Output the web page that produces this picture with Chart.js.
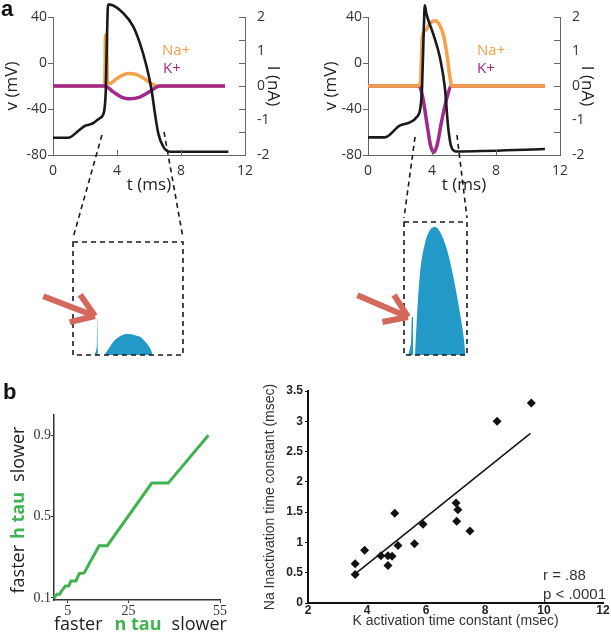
<!DOCTYPE html>
<html>
<head>
<meta charset="utf-8">
<script src="https://cdn.jsdelivr.net/npm/chart.js@4.4.0/dist/chart.umd.min.js"></script>
<style>
  body { margin: 0; background: #fff; width: 611px; height: 640px; position: relative; overflow: hidden; font-family: "Open Sans", sans-serif; }
  canvas { position: absolute; }
  .lbl { position: absolute; white-space: nowrap; line-height: 1; }
</style>
</head>
<body>
<canvas id="traceA" style="left:0;top:0;width:285px;height:365px" width="285" height="365"></canvas>
<canvas id="zoomA" style="left:0;top:0;width:285px;height:365px" width="285" height="365"></canvas>
<canvas id="traceB" style="left:319px;top:0;width:280px;height:365px" width="280" height="365"></canvas>
<canvas id="zoomB" style="left:319px;top:0;width:280px;height:365px" width="280" height="365"></canvas>
<canvas id="tauChart" style="left:0;top:370px;width:260px;height:270px" width="260" height="270"></canvas>
<canvas id="scatterChart" style="left:260px;top:370px;width:351px;height:260px" width="351" height="260"></canvas>

<div class="lbl" style="left:1px;top:-4px;font:bold 22px 'Liberation Sans',Arial;color:#111">a</div>
<div class="lbl" style="left:3px;top:379px;font:bold 22px 'Liberation Sans',Arial;color:#111">b</div>

<div class="lbl" style="left:162px;top:42px;font-size:15px;color:#f5a04a">Na+</div>
<div class="lbl" style="left:163px;top:60px;font-size:15px;color:#a12a8c">K+</div>
<div class="lbl" style="left:477px;top:42px;font-size:15px;color:#f5a04a">Na+</div>
<div class="lbl" style="left:477px;top:60px;font-size:15px;color:#a12a8c">K+</div>

<div class="lbl" style="left:54px;top:614px;font-size:18px;color:#222">faster<span style="display:inline-block;width:12px"></span><b style="color:#3fb34f">n tau</b><span style="display:inline-block;width:10px"></span>slower</div>
<div class="lbl" style="left:-73px;top:501px;width:180px;text-align:center;transform:rotate(-90deg);font-size:18px;color:#222">faster<span style="display:inline-block;width:6px"></span><b style="color:#3fb34f">h tau</b><span style="display:inline-block;width:10px"></span>slower</div>

<div class="lbl" style="left:543px;top:566px;font:15px 'Liberation Sans',Arial;color:#333">r = .88</div>
<div class="lbl" style="left:543px;top:585px;font:15px 'Liberation Sans',Arial;color:#333">p &lt; .0001</div>

<script>
// --- panel a, left: slow K activation ---
const tVoltA = [0, 0.94, 1.67, 1.98, 2.5, 2.92, 3.19, 3.3, 3.38, 3.44, 3.55, 4.38, 5.01, 5.43, 5.85, 6.16, 6.37, 6.58, 6.89, 7.31, 10.96];
const voltA = [-65, -65, -58, -54.8, -52.4, -48, -42.3, -23.4, 26, 50.8, 50.8, 43.5, 31.9, 17.3, -3, -23.4, -43.7, -61.2, -72.8, -77.2, -77.2];
const tNaA = [0, 3.03, 3.24, 3.28, 3.34, 3.4, 3.55, 3.97, 4.7, 5.22, 5.85, 6.26, 6.58, 10.75];
const naA = [0, 0, 0, 1.47, 1.47, 0.1, 0.07, 0.21, 0.36, 0.33, 0.17, 0.04, 0, 0];
const tKA = [0, 3.24, 3.76, 4.28, 4.8, 5.43, 5.95, 6.37, 6.68, 10.75];
const kA = [0, 0, -0.17, -0.32, -0.37, -0.32, -0.19, -0.06, 0, 0];

// --- panel a, right: fast K activation ---
const tVoltB = [0, 1.04, 1.98, 2.61, 3.03, 3.28, 3.38, 3.49, 3.55, 3.65, 4.07, 4.49, 4.8, 5.01, 5.22, 5.53, 11.06];
const voltB = [-64.7, -64.7, -54.5, -51.6, -47.2, -38.5, -21, 31.3, 50.2, 42.9, 25.5, 5.1, -21, -55.9, -73.4, -76.9, -74.8];
const tNaB = [0, 3.03, 3.28, 3.4, 3.61, 3.86, 4.18, 4.49, 4.74, 4.95, 5.11, 5.24, 11.06];
const naB = [0, 0, 0.1, 1.43, 1.62, 1.81, 1.89, 1.76, 1.43, 0.86, 0.29, 0, 0];
const tKB = [0, 3.19, 3.44, 3.7, 3.9, 4.11, 4.32, 4.59, 4.91, 5.22, 11.06];
const kB = [0, 0, -0.38, -1.14, -1.71, -1.92, -1.71, -1.05, -0.38, 0, 0];

const timeTicks = [0, 4, 8, 12];
const timeInnerTicks = [4, 8];
const currentInnerTicks = [2, 4 / 3, 2 / 3, 0, -2 / 3, -4 / 3, -2];

// zoom insets (arbitrary units 0-100)
const spikeXA = [19.4, 21, 21.8, 22.1, 22.6];
const spikeYA = [0, 4, 12, 34, 0];
const humpXA = [28.5, 31, 34, 36.6, 40, 44, 48.2, 53, 57, 60.9, 64, 67, 70, 71.5, 72];
const humpYA = [0, 3.5, 8, 11.8, 14.8, 17.3, 18.6, 18.4, 17.3, 16.2, 13.5, 10.3, 6, 2.9, 0];
const spikeXB = [6.9, 9.5, 11.5, 12.5, 14.3, 14.8];
const spikeYB = [0, 5, 12, 28.6, 28.6, 0];
const humpXB = [17.5, 20, 25.4, 33.3, 41.3, 49.2, 57.1, 67.7, 78.3, 86.2, 93.1, 96.8, 97];
const humpYB = [0, 23.8, 61.4, 84, 94, 96.5, 92.7, 80, 58.9, 38.8, 18.8, 2.5, 0];
// zoom window edges on the voltage trace (t, v)
const linksA = [[3.06, -62.6], [6.94, -60]];
const linksB = [[2.94, -64.3], [5.56, -62.6]];
// red arrows in inset units
const arrowA = [[-27, 52], [20, 34.5]];
const arrowB = [[-74, 45], [6.3, 28.6]];

// --- panel b ---
const nTau = [0.47, 1.44, 2.31, 3.17, 4.25, 5.33, 6.09, 7.71, 8.79, 10.4, 15.3, 18.0, 32.6, 38.0, 51.2];
const hTau = [0.1, 0.118, 0.118, 0.138, 0.159, 0.159, 0.184, 0.184, 0.220, 0.223, 0.357, 0.357, 0.665, 0.665, 0.9];
const nTauTicks = [5, 25, 55];
const hTauTicks = [0.1, 0.5, 0.9];

const kActivation = [3.60, 3.60, 3.92, 4.47, 4.71, 4.85, 4.71, 4.94, 5.05, 5.61, 5.90, 7.02, 7.08, 7.04, 7.49, 8.41, 9.57];
const naInactivation = [0.65, 0.47, 0.87, 0.78, 0.78, 0.77, 0.62, 1.48, 0.95, 0.98, 1.30, 1.65, 1.54, 1.35, 1.19, 3.00, 3.30];
const fitX = [3.6, 9.54];
const fitY = [0.48, 2.80];

const orange = '#f5a04a';
const purple = '#a12a8c';
const green = '#3fb34f';
const blue = '#2399c8';
const arrowRed = '#d4685c';
const axisGray = '#666';

const pts = (xs, ys) => xs.map((x, i) => ({ x: x, y: ys[i] }));

const innerTicks = {
    id: 'innerTicks',
    afterDraw(chart, args, opts) {
        const { ctx, chartArea, scales } = chart;
        ctx.save();
        ctx.strokeStyle = axisGray;
        ctx.lineWidth = 1;
        ctx.beginPath();
        (opts.x || []).forEach(v => {
            const px = Math.round(scales.x.getPixelForValue(v)) + 0.5;
            ctx.moveTo(px, chartArea.bottom);
            ctx.lineTo(px, chartArea.bottom - 5);
        });
        (opts.y1 || []).forEach(v => {
            const py = Math.round(scales.y1.getPixelForValue(v)) + 0.5;
            ctx.moveTo(chartArea.right, py);
            ctx.lineTo(chartArea.right - 6, py);
        });
        ctx.stroke();
        ctx.restore();
    }
};

function traceLine(data, color, width, axis) {
    return {
        data: data,
        borderColor: color,
        borderWidth: width,
        pointRadius: 0,
        cubicInterpolationMode: 'monotone',
        yAxisID: axis,
        clip: false
    };
}

function makeTrace(id, sizes, datasets) {
    const tickFont = { family: 'Open Sans', size: 14 };
    const titleFont = { family: 'Open Sans', size: 17 };
    return new Chart(document.getElementById(id), {
        type: 'line',
        data: { datasets: datasets },
        options: {
            responsive: false,
            animation: false,
            layout: { padding: { top: 17, bottom: 170, left: 0, right: 0 } },
            plugins: {
                legend: { display: false },
                tooltip: { enabled: false },
                innerTicks: { x: timeInnerTicks, y1: currentInnerTicks }
            },
            scales: {
                x: {
                    type: 'linear', min: 0, max: 12,
                    afterBuildTicks: s => { s.ticks = timeTicks.map(v => ({ value: v })); },
                    afterFit: s => { s.height = 40; },
                    grid: { display: false },
                    border: { color: axisGray, width: 1 },
                    ticks: { color: '#333', font: tickFont, padding: 0, maxRotation: 0 },
                    title: { display: true, text: 't (ms)', color: '#222', font: titleFont, padding: 0 }
                },
                y: {
                    position: 'left', min: -80, max: 40,
                    ticks: { stepSize: 40, color: '#333', font: tickFont, padding: 1 },
                    afterFit: s => { s.width = sizes.left; },
                    grid: { drawOnChartArea: false, drawTicks: true, tickLength: 5, color: axisGray },
                    border: { color: axisGray, width: 1 },
                    title: { display: true, text: 'v (mV)', color: '#222', font: titleFont, padding: 2 }
                },
                y1: {
                    position: 'right', min: -2, max: 2,
                    ticks: { stepSize: 1, color: '#333', font: tickFont, padding: 4 },
                    afterFit: s => { s.width = sizes.right; },
                    grid: { display: false },
                    border: { color: axisGray, width: 1 },
                    title: { display: true, text: 'I (nA)', color: '#222', font: titleFont, padding: 2 }
                }
            }
        },
        plugins: [innerTicks]
    });
}

const traceA = makeTrace('traceA', { left: 53, right: 40 }, [
    traceLine(pts(tVoltA, voltA), '#1a1a1a', 2.6, 'y'),
    traceLine(pts(tKA, kA), purple, 3.5, 'y1'),
    traceLine(pts(tNaA, naA), orange, 3.5, 'y1')
]);

const traceB = makeTrace('traceB', { left: 49, right: 39 }, [
    traceLine(pts(tVoltB, voltB), '#1a1a1a', 2.6, 'y'),
    traceLine(pts(tNaB, naB), orange, 3.5, 'y1'),
    traceLine(pts(tKB, kB), purple, 3.5, 'y1')
]);

function zoomBox(trace, links, arrow) {
    return {
        id: 'zoomBox',
        afterDraw(chart) {
            const { ctx, chartArea, scales } = chart;
            const a = chartArea;
            ctx.save();
            ctx.strokeStyle = '#1a1a1a';
            ctx.lineWidth = 1.6;
            ctx.setLineDash([5, 4]);
            ctx.strokeRect(a.left, a.top, a.right - a.left, a.bottom - a.top);
            const corners = [a.left, a.right];
            links.forEach((p, i) => {
                ctx.beginPath();
                ctx.moveTo(trace.scales.x.getPixelForValue(p[0]), trace.scales.y.getPixelForValue(p[1]));
                ctx.lineTo(corners[i], a.top - 4);
                ctx.stroke();
            });
            ctx.setLineDash([]);
            // arrow
            const x0 = scales.x.getPixelForValue(arrow[0][0]);
            const y0 = scales.y.getPixelForValue(arrow[0][1]);
            const x1 = scales.x.getPixelForValue(arrow[1][0]);
            const y1 = scales.y.getPixelForValue(arrow[1][1]);
            const ang = Math.atan2(y1 - y0, x1 - x0);
            ctx.strokeStyle = arrowRed;
            ctx.lineWidth = 6;
            ctx.lineCap = 'butt';
            ctx.beginPath();
            ctx.moveTo(x0, y0);
            ctx.lineTo(x1 - 3 * Math.cos(ang), y1 - 3 * Math.sin(ang));
            [0.6, -0.6].forEach(d => {
                ctx.moveTo(x1, y1);
                ctx.lineTo(x1 - 26 * Math.cos(ang + d), y1 - 26 * Math.sin(ang + d));
            });
            ctx.stroke();
            ctx.restore();
        }
    };
}

function makeInset(id, pad, spike, hump, trace, links, arrow) {
    const area = d => ({
        data: d, fill: 'origin', backgroundColor: blue, borderColor: 'rgba(0,0,0,0)',
        borderWidth: 0, pointRadius: 0, cubicInterpolationMode: 'monotone'
    });
    return new Chart(document.getElementById(id), {
        type: 'line',
        data: { datasets: [area(spike), area(hump)] },
        options: {
            responsive: false,
            animation: false,
            layout: { padding: pad },
            plugins: { legend: { display: false }, tooltip: { enabled: false } },
            scales: {
                x: { type: 'linear', min: 0, max: 100, display: false },
                y: { min: 0, max: 100, display: false }
            }
        },
        plugins: [zoomBox(trace, links, arrow)]
    });
}

makeInset('zoomA', { left: 73, right: 102, top: 242, bottom: 10 },
    pts(spikeXA, spikeYA), pts(humpXA, humpYA), traceA, linksA, arrowA);
makeInset('zoomB', { left: 85, right: 132, top: 222, bottom: 10 },
    pts(spikeXB, spikeYB), pts(humpXB, humpYB), traceB, linksB, arrowB);

// --- panel b, left: n tau vs h tau ---
new Chart(document.getElementById('tauChart'), {
    type: 'line',
    data: {
        datasets: [{
            data: pts(nTau, hTau), borderColor: green, borderWidth: 3,
            pointRadius: 0, tension: 0, clip: false
        }]
    },
    options: {
        responsive: false,
        animation: false,
        layout: { padding: { top: 45, right: 40, left: 0, bottom: 0 } },
        plugins: { legend: { display: false }, tooltip: { enabled: false } },
        scales: {
            x: {
                type: 'linear', min: 0.5, max: 55,
                afterBuildTicks: s => { s.ticks = nTauTicks.map(v => ({ value: v })); },
                afterFit: s => { s.height = 40; },
                grid: { drawOnChartArea: false, tickLength: 3, color: '#333' },
                border: { color: '#333', width: 1.5 },
                ticks: { color: '#333', font: { family: 'Liberation Serif', size: 14 }, padding: 0, maxRotation: 0 }
            },
            y: {
                min: 0.09, max: 1.0,
                afterBuildTicks: s => { s.ticks = hTauTicks.map(v => ({ value: v })); },
                afterFit: s => { s.width = 54; },
                grid: { drawOnChartArea: false, tickLength: 3, color: '#333' },
                border: { color: '#333', width: 1.5 },
                ticks: { color: '#333', font: { family: 'Liberation Serif', size: 14 }, padding: 0, callback: v => v.toFixed(1) }
            }
        }
    }
});

// --- panel b, right: K activation vs Na inactivation ---
new Chart(document.getElementById('scatterChart'), {
    type: 'scatter',
    data: {
        datasets: [
            {
                data: pts(kActivation, naInactivation), backgroundColor: '#111', borderColor: '#111',
                pointStyle: 'rectRot', pointRadius: 4.5, borderWidth: 0
            },
            {
                type: 'line', data: pts(fitX, fitY), borderColor: '#111', borderWidth: 1.5,
                pointRadius: 0, showLine: true
            }
        ]
    },
    options: {
        responsive: false,
        animation: false,
        layout: { padding: { top: 21, right: 8, left: 0, bottom: 0 } },
        plugins: { legend: { display: false }, tooltip: { enabled: false } },
        scales: {
            x: {
                type: 'linear', min: 2, max: 12,
                afterFit: s => { s.height = 27; },
                ticks: { stepSize: 2, color: '#222', font: { family: 'Liberation Sans', size: 12, weight: 'bold' }, padding: 0, maxRotation: 0 },
                grid: { drawOnChartArea: false, drawTicks: false },
                border: { color: '#111', width: 2 },
                title: { display: true, text: 'K activation time constant (msec)', color: '#333', font: { family: 'Liberation Sans', size: 14 }, padding: 0 }
            },
            y: {
                min: 0, max: 3.5,
                afterFit: s => { s.width = 48; },
                ticks: { stepSize: 0.5, color: '#222', font: { family: 'Liberation Sans', size: 12, weight: 'bold' }, padding: 2, callback: v => String(v) },
                grid: { drawOnChartArea: false, tickLength: 3, color: '#111' },
                border: { color: '#111', width: 2 },
                title: { display: true, text: 'Na Inactivation time constant (msec)', color: '#333', font: { family: 'Liberation Sans', size: 14 }, padding: 2 }
            }
        }
    }
});
</script>
</body>
</html>
